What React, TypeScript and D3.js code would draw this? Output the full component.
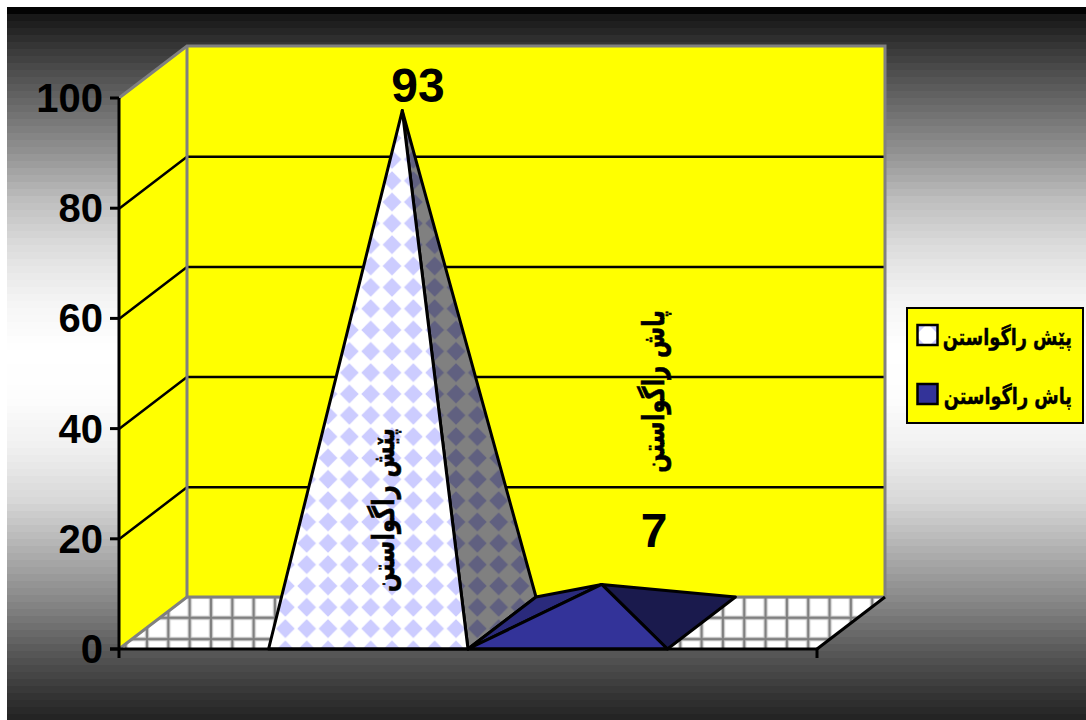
import React from 'react'
import * as d3 from 'd3'

const seriesNames = ['پێش راگواستن', 'پاش راگواستن']
const seriesValues = [93, 7]
const yTicks = [0, 20, 40, 60, 80, 100]

const bgY = [7, 11, 16, 50, 100, 150, 200, 250, 300, 350, 400, 450, 500, 550, 600, 650, 700, 720]
const bgGray = [20, 0, 22, 58, 102, 144, 190, 222, 244, 255, 253, 239, 216, 176, 136, 90, 48, 34]

const DX = 68
const DY = -52

const y = d3.scaleLinear().domain([0, 100]).range([649, 98])
const x = d3.scaleBand<string>().domain(seriesNames).range([119, 817]).paddingInner(0).paddingOuter(0.75)

const gray = d3.scaleLinear<number>().domain(bgY).range(bgGray)
const bands = d3.range(7, 720, 7)

const ARABIC = '"DejaVu Sans", "Noto Sans", sans-serif'
const LATIN = '"Liberation Sans", Arial, sans-serif'

const pts = (p: number[][]) => p.map(d => d.join(',')).join(' ')

function Diamonds ({ id, bg, fg }: { id: string, bg: string, fg: string }) {
  const s = 21.33
  const r = 9.4
  const c = s / 2
  return (
    <pattern id={id} patternUnits='userSpaceOnUse' width={s} height={s}
      patternTransform={`translate(${306.7 - c},${607.3 - c})`}>
      <rect width={s} height={s} fill={bg} />
      <polygon points={pts([[c, c - r], [c + r, c], [c, c + r], [c - r, c]])} fill={fg} />
    </pattern>
  )
}

export default function App () {
  const x0 = 119
  const x1 = 817
  const y0 = y(0)
  const yTop = y(100)

  const pyramid = (i: number) => {
    const name = seriesNames[i]
    const l = x(name) as number
    const r = l + x.bandwidth()
    const apex = [(l + r) / 2 + DX / 2, y(seriesValues[i]) + DY / 2]
    return { l, r, apex }
  }
  const a = pyramid(0)
  const b = pyramid(1)

  const legendRows = [
    { name: seriesNames[0], fill: 'url(#legendDiamond)', top: 325, text: 345 },
    { name: seriesNames[1], fill: '#333399', top: 384, text: 404 }
  ]

  return (
    <svg width={1079} height={713} viewBox='7 7 1079 713'
      style={{ position: 'absolute', left: 7, top: 7, display: 'block' }}>
      <defs>
        <Diamonds id='frontDiamond' bg='#ffffff' fg='#ccccff' />
        <Diamonds id='sideDiamond' bg='#808080' fg='#606080' />
        <pattern id='legendDiamond' patternUnits='userSpaceOnUse' width={21} height={21} patternTransform='translate(917,325)'>
          <rect width={21} height={21} fill='#ffffff' />
          <polygon points='0,0 9,0 0,9' fill='#ccccff' />
          <polygon points='0,21 9,21 0,12' fill='#ccccff' />
          <polygon points='21,0 12,0 21,9' fill='#ccccff' />
          <polygon points='21,21 12,21 21,12' fill='#ccccff' />
        </pattern>
        <pattern id='floorTile' patternUnits='userSpaceOnUse' width={21.33} height={21.33} patternTransform='translate(147,617.8)'>
          <rect width={21.33} height={21.33} fill='#ffffff' />
          <path d='M0,0V21.33M21.33,0V21.33M0,0H21.33M0,21.33H21.33' stroke='#d0d0d0' strokeWidth={4.4} fill='none' />
          <path d='M0,0V21.33M21.33,0V21.33M0,0H21.33M0,21.33H21.33' stroke='#808080' strokeWidth={2.2} fill='none' />
        </pattern>
      </defs>

      {bands.map(b0 => {
        const g = Math.round(gray(b0 + 3.5))
        return <rect key={b0} x={7} y={b0} width={1079} height={7.5} fill={d3.rgb(g, g, g).formatHex()} />
      })}

      {/* walls and floor */}
      <polygon points={pts([[x0, yTop], [x0 + DX, yTop + DY], [x0 + DX, y0 + DY], [x0, y0]])} fill='#ffff00' />
      <polygon points={pts([[x0 + DX, yTop + DY], [x1 + DX, yTop + DY], [x1 + DX, y0 + DY], [x0 + DX, y0 + DY]])} fill='#ffff00' />
      <polygon points={pts([[x0, y0], [x1, y0], [x1 + DX, y0 + DY], [x0 + DX, y0 + DY]])} fill='url(#floorTile)' />

      {yTicks.slice(1, -1).map(t => (
        <polyline key={t} points={pts([[x0, y(t) + 0.5], [x0 + DX, y(t) + DY + 0.5], [x1 + DX, y(t) + DY + 0.5]])}
          fill='none' stroke='#000000' strokeWidth={2.5} />
      ))}

      <polyline points={pts([[x0, yTop], [x0 + DX, yTop + DY], [x1 + DX, yTop + DY], [x1 + DX, y0 + DY], [x0 + DX, y0 + DY], [x0, y0]])}
        fill='none' stroke='#808080' strokeWidth={3} />
      <line x1={x0 + DX} x2={x0 + DX} y1={yTop + DY} y2={y0 + DY} stroke='#808080' strokeWidth={3} />
      <line x1={x1} x2={x1 + DX} y1={y0} y2={y0 + DY} stroke='#000000' strokeWidth={3} />

      {/* pyramids */}
      <g stroke='#000000' strokeWidth={3} strokeLinejoin='round'>
        <polygon points={pts([[a.r, y0], [a.r + DX, y0 + DY], a.apex])} fill='url(#sideDiamond)' />
        <polygon points={pts([[a.l, y0], [a.r, y0], a.apex])} fill='url(#frontDiamond)' />
        <polygon points={pts([[b.l, y0], [b.l + DX, y0 + DY], b.apex])} fill='#2a2a7c' />
        <polygon points={pts([[b.r, y0], [b.r + DX, y0 + DY], b.apex])} fill='#1a1a4d' />
        <polygon points={pts([[b.l, y0], [b.r, y0], b.apex])} fill='#333399' />
      </g>

      {/* axes */}
      <line x1={x0} x2={x0} y1={yTop} y2={y0 + 9} stroke='#000000' strokeWidth={3} />
      <line x1={x0 - 9} x2={x1} y1={y0} y2={y0} stroke='#000000' strokeWidth={3} />
      <line x1={x1} x2={x1} y1={y0} y2={y0 + 9} stroke='#000000' strokeWidth={3} />
      {yTicks.map(t => (
        <g key={t}>
          <line x1={x0 - 9} x2={x0} y1={y(t)} y2={y(t)} stroke='#000000' strokeWidth={3} />
          <text x={103} y={y(t) + 14} textAnchor='end' fontFamily={LATIN} fontWeight='bold' fontSize={40}>{t}</text>
        </g>
      ))}

      {/* data labels */}
      <text x={418} y={102} textAnchor='middle' fontFamily={LATIN} fontWeight='bold' fontSize={48}>{seriesValues[0]}</text>
      <text x={654} y={547} textAnchor='middle' fontFamily={LATIN} fontWeight='bold' fontSize={48}>{seriesValues[1]}</text>
      <text transform='translate(394,428) rotate(-90) scale(0.75,1)' direction='rtl' textAnchor='start' fontFamily={ARABIC}
        fontWeight='bold' fontSize={30} stroke='#000000' strokeWidth={0.6}>{seriesNames[0]}</text>
      <text transform='translate(664,310) rotate(-90) scale(0.75,1)' direction='rtl' textAnchor='start' fontFamily={ARABIC}
        fontWeight='bold' fontSize={30} stroke='#000000' strokeWidth={0.6}>{seriesNames[1]}</text>

      {/* legend */}
      <rect x={907} y={308} width={176} height={115} fill='#ffff00' stroke='#000000' strokeWidth={2} />
      {legendRows.map(r => (
        <g key={r.name}>
          <rect x={917.5} y={r.top} width={20} height={20} fill={r.fill} stroke='#000000' strokeWidth={2.5} />
          <text transform={`translate(1072,${r.text}) scale(0.77,1)`} direction='rtl' textAnchor='start' fontFamily={ARABIC}
            fontWeight='bold' fontSize={23} stroke='#000000' strokeWidth={0.4}>{r.name}</text>
        </g>
      ))}
    </svg>
  )
}
